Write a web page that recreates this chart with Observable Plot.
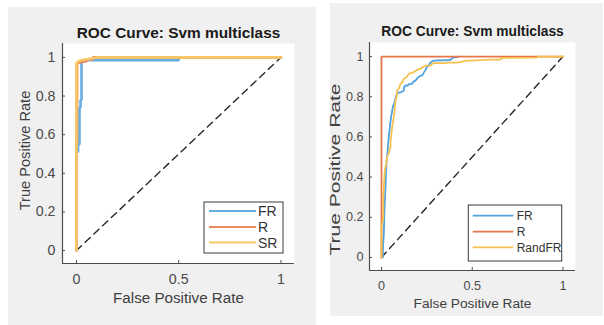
<!DOCTYPE html>
<html>
<head>
<meta charset="utf-8">
<script src="https://cdn.jsdelivr.net/npm/d3@7"></script>
<script src="https://cdn.jsdelivr.net/npm/@observablehq/plot@0.6"></script>
<style>
  html, body { margin: 0; padding: 0; background: #ffffff; }
  body { width: 604px; height: 325px; position: relative; overflow: hidden; font-family: "Liberation Sans", Arial, sans-serif; }
  .panel { position: absolute; background: #f0f0f0; }
  .panel svg { position: absolute; left: 0; top: 0; overflow: visible; }
</style>
</head>
<body>
<div id="p1" class="panel" style="left:8px;top:7px;width:308px;height:318px"></div>
<div id="p2" class="panel" style="left:330px;top:3px;width:273px;height:313px"></div>
<script>
// ---- Data ----
const chartTitle = "ROC Curve: Svm multiclass";
const xLabel = "False Positive Rate";
const yLabel = "True Positive Rate";
const xTicks = [0, 0.5, 1];
const yTicks = [0, 0.2, 0.4, 0.6, 0.8, 1];
const diagX = [0, 1];
const diagY = [0, 1];

// Left panel series
const leftSeries = ["FR", "R", "SR"];
const leftFR_x = [0, 0, 0.008, 0.008, 0.015, 0.015, 0.02, 0.02, 0.025, 0.025, 0.5, 0.5, 1];
const leftFR_y = [0, 0.51, 0.51, 0.55, 0.55, 0.74, 0.74, 0.78, 0.78, 0.985, 0.985, 1, 1];
const leftR_x = [0, 0, 0.003, 0.003, 0.02, 0.05, 0.05, 0.08, 0.08, 1];
const leftR_y = [0, 0.55, 0.55, 0.97, 0.975, 0.98, 0.99, 0.99, 1, 1];
const leftSR_x = [0, 0, 0.01, 0.02, 0.05, 0.1, 1];
const leftSR_y = [0, 0.97, 0.98, 0.985, 0.99, 1, 1];

// Right panel series
const rightSeries = ["FR", "R", "RandFR"];
const rightFR_x = [0, 0.008, 0.008, 0.013, 0.017, 0.022, 0.028, 0.031, 0.04, 0.05, 0.053, 0.064, 0.068, 0.083, 0.09, 0.1, 0.123, 0.123, 0.132, 0.145, 0.155, 0.169, 0.175, 0.187, 0.2, 0.215, 0.224, 0.233, 0.24, 0.25, 0.26, 0.27, 0.288, 0.38, 0.39, 0.426];
const rightFR_y = [0, 0, 0.05, 0.12, 0.25, 0.35, 0.48, 0.5, 0.6, 0.68, 0.7, 0.756, 0.76, 0.81, 0.82, 0.82, 0.83, 0.845, 0.856, 0.856, 0.864, 0.864, 0.875, 0.88, 0.895, 0.905, 0.905, 0.92, 0.93, 0.947, 0.955, 0.97, 0.98, 0.983, 0.993, 1];
const rightR_x = [0, 0, 1];
const rightR_y = [0, 1, 1];
const rightRand_x = [0, 0, 0.01, 0.01, 0.017, 0.02, 0.026, 0.031, 0.04, 0.05, 0.05, 0.059, 0.068, 0.072, 0.077, 0.083, 0.086, 0.095, 0.105, 0.114, 0.123, 0.141, 0.15, 0.178, 0.19, 0.215, 0.242, 0.27, 0.279, 0.288, 0.353, 0.36, 0.417, 0.472, 0.49, 0.6, 0.655, 0.665, 0.857, 0.866, 1];
const rightRand_y = [0, 0.15, 0.2, 0.3, 0.415, 0.44, 0.465, 0.5, 0.52, 0.55, 0.58, 0.65, 0.7, 0.73, 0.78, 0.8, 0.83, 0.84, 0.864, 0.872, 0.89, 0.9, 0.914, 0.922, 0.93, 0.94, 0.955, 0.955, 0.964, 0.967, 0.967, 0.97, 0.97, 0.98, 0.98, 0.985, 0.985, 0.993, 0.995, 1, 1];

// ---- Helpers ----
function toPoints(name, xs, ys) { return xs.map((x, i) => ({series: name, x, y: ys[i]})); }

function makePanel(cfg) {
  const {el, width, height, margins, xDomain, yDomain, series, colors, strokeWidth, font, legend} = cfg;
  const diag = diagX.map((x, i) => ({x, y: diagY[i]}));
  const tickLen = 3;
  const pxPerY = (height - margins.top - margins.bottom) / (yDomain[1] - yDomain[0]);
  const pxPerX = (width - margins.left - margins.right) / (xDomain[1] - xDomain[0]);
  const marks = [
    Plot.frame({fill: "#ffffff", stroke: "none"}),
    Plot.line(diag, {x: "x", y: "y", stroke: "#262626", strokeWidth: 1.4, strokeDasharray: "7,5"}),
  ];
  series.forEach((s, i) => {
    marks.push(Plot.line(s.data, {x: "x", y: "y", stroke: colors[i], strokeWidth, strokeLinejoin: "miter", curve: "linear"}));
  });
  // axis lines (left + bottom only)
  marks.push(Plot.ruleY([yDomain[0]], {x1: xDomain[0], x2: xDomain[1], stroke: "#4d4d4d", strokeWidth: 1.2}));
  marks.push(Plot.ruleX([xDomain[0]], {y1: yDomain[0], y2: yDomain[1], stroke: "#4d4d4d", strokeWidth: 1.2}));
  // inward ticks
  marks.push(Plot.ruleX(xTicks, {x: d => d, y1: yDomain[0], y2: yDomain[0] + tickLen / pxPerY, stroke: "#4d4d4d", strokeWidth: 1}));
  marks.push(Plot.ruleY(yTicks, {y: d => d, x1: xDomain[0], x2: xDomain[0] + tickLen / pxPerX, stroke: "#4d4d4d", strokeWidth: 1}));
  // axes labels
  marks.push(Plot.axisX(xTicks, {tickSize: 0, tickPadding: font.xPad, fontSize: font.tick, fill: "#4a4a4a", tickFormat: d => String(d), label: null}));
  marks.push(Plot.axisY(yTicks, {tickSize: 0, tickPadding: font.yPad, fontSize: font.tick, fill: "#4a4a4a", tickFormat: d => String(d), label: null}));
  marks.push(Plot.text([chartTitle], {frameAnchor: "top", textAnchor: "middle", lineAnchor: "bottom", dy: font.titleDy, fontSize: font.title, fontWeight: "bold", fill: "#1a1a1a"}));
  marks.push(Plot.text([xLabel], {frameAnchor: "bottom", textAnchor: "middle", lineAnchor: "bottom", dy: font.xLabelDy, fontSize: font.label, fill: "#404040"}));
  marks.push(Plot.text([yLabel], {frameAnchor: "left", textAnchor: "middle", lineAnchor: "middle", rotate: -90, dx: font.yLabelDx, dy: font.yLabelDy, fontSize: font.yLabel, fill: "#404040"}));

  const chart = Plot.plot({
    width, height,
    marginLeft: margins.left, marginRight: margins.right, marginTop: margins.top, marginBottom: margins.bottom,
    style: {background: "transparent", fontFamily: "'Liberation Sans', Arial, sans-serif", overflow: "visible"},
    x: {domain: xDomain, axis: null},
    y: {domain: yDomain, axis: null},
    marks
  });
  el.appendChild(chart);

  if (font.yLabelLength) {
    d3.select(chart).selectAll("text").filter(function() { return this.textContent === yLabel; })
      .attr("textLength", font.yLabelLength).attr("lengthAdjust", "spacingAndGlyphs");
  }

  // legend overlay
  const svg = d3.select(el).append("svg").attr("width", width).attr("height", height)
    .style("pointer-events", "none");
  svg.append("rect").attr("x", legend.x).attr("y", legend.y).attr("width", legend.w).attr("height", legend.h)
    .attr("fill", "#ffffff").attr("stroke", "#3a3a3a").attr("stroke-width", 1);
  series.forEach((s, i) => {
    const cy = legend.rows[i];
    svg.append("line").attr("x1", legend.lx1).attr("x2", legend.lx2).attr("y1", cy).attr("y2", cy)
      .attr("stroke", colors[i]).attr("stroke-width", legend.lw);
    svg.append("text").attr("x", legend.tx).attr("y", cy).attr("dy", "0.36em")
      .attr("font-size", legend.fs).attr("fill", "#333333")
      .attr("font-family", "'Liberation Sans', Arial, sans-serif").text(s.name);
  });
}

makePanel({
  el: document.getElementById("p1"),
  width: 308, height: 318,
  margins: {left: 54, right: 22, top: 36, bottom: 62},
  xDomain: [-0.068, 1.066], yDomain: [-0.067, 1.072],
  series: [
    {name: leftSeries[0], data: toPoints(leftSeries[0], leftFR_x, leftFR_y)},
    {name: leftSeries[1], data: toPoints(leftSeries[1], leftR_x, leftR_y)},
    {name: leftSeries[2], data: toPoints(leftSeries[2], leftSR_x, leftSR_y)}
  ],
  colors: ["#66aee0", "#ea8a60", "#f7c865"],
  strokeWidth: 2.6,
  font: {tick: 14.2, title: 15.4, label: 15.2, yLabel: 14.6, xPad: 10, yPad: 7, titleDy: -6, xLabelDy: 39, yLabelDx: -37, yLabelDy: -3},
  legend: {x: 196, y: 195, w: 79, h: 51, lx1: 201, lx2: 248, tx: 250, rows: [204, 220, 235.5], fs: 14, lw: 2.2}
});

makePanel({
  el: document.getElementById("p2"),
  width: 273, height: 313,
  margins: {left: 39, right: 28, top: 39, bottom: 46},
  xDomain: [-0.066, 1.069], yDomain: [-0.065, 1.07],
  series: [
    {name: rightSeries[0], data: toPoints(rightSeries[0], rightFR_x, rightFR_y)},
    {name: rightSeries[1], data: toPoints(rightSeries[1], rightR_x, rightR_y)},
    {name: rightSeries[2], data: toPoints(rightSeries[2], rightRand_x, rightRand_y)}
  ],
  colors: ["#4fa3e0", "#e8764a", "#f5c250"],
  strokeWidth: 1.8,
  font: {tick: 12.6, title: 13.8, label: 13.7, yLabel: 15, yLabelLength: 172, xPad: 11, yPad: 6, titleDy: -7, xLabelDy: 37, yLabelDx: -34, yLabelDy: 13},
  legend: {x: 138.3, y: 202, w: 93.4, h: 56, lx1: 142.7, lx2: 183.3, tx: 186.7, rows: [212.7, 228.7, 244.3], fs: 12, lw: 1.8}
});
</script>
</body>
</html>
